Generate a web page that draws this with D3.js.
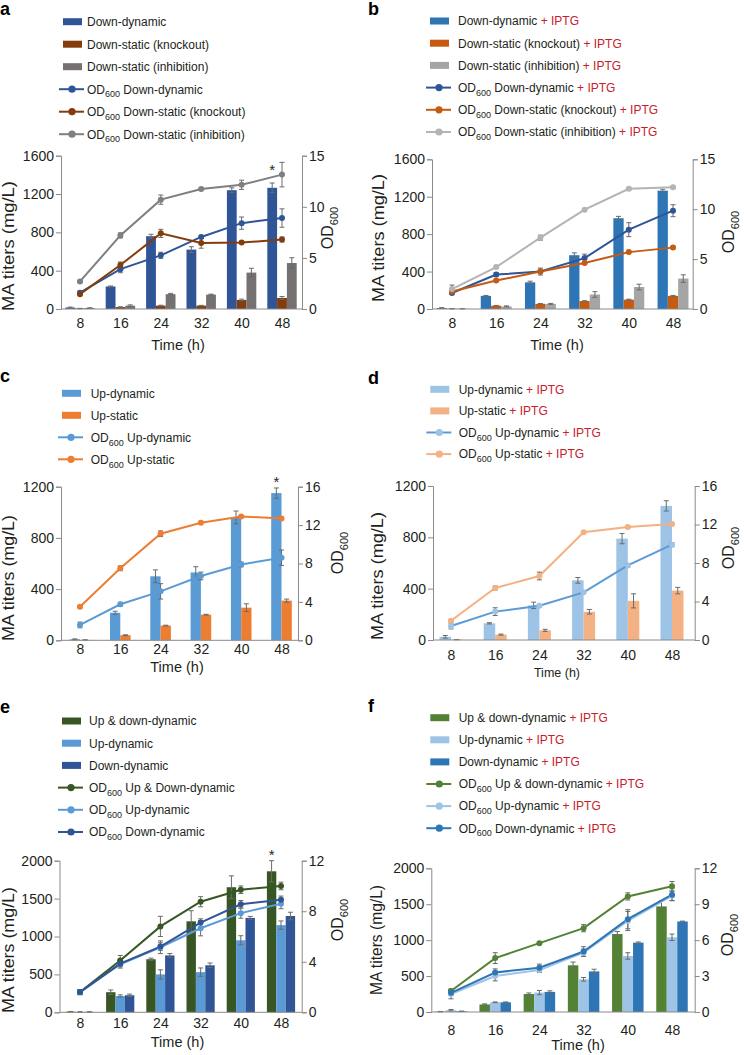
<!DOCTYPE html>
<html><head><meta charset="utf-8">
<script src="https://cdn.jsdelivr.net/npm/d3@7"></script>
<style>body{margin:0;background:#fff}svg{display:block}</style>
</head><body><svg id="c" width="744" height="1055"></svg>
<script>
const timeLabels = ["8","16","24","32","40","48"];

// ---- panel a ----
const aLeftTicks = [0,400,800,1200,1600];
const aRightTicks = [0,5,10,15];
const aDownDyn = [15,235,760,620,1240,1265];
const aDownDynErr = [5,5,20,30,25,50];
const aKnock = [5,20,35,35,95,115];
const aKnockErr = [2,3,4,3,8,15];
const aInhib = [10,35,155,150,380,480];
const aInhibErr = [3,8,8,5,45,55];
const aOdDownDyn = [1.6,3.9,5.25,7.05,8.4,8.9];
const aOdDownDynErr = [0.15,0.35,0.3,0.15,0.6,0.9];
const aOdKnock = [1.45,4.3,7.4,6.45,6.5,6.8];
const aOdKnockErr = [0.1,0.3,0.4,0.5,0.1,0.25];
const aOdInhib = [2.7,7.2,10.7,11.75,12.15,13.15];
const aOdInhibErr = [0.1,0.25,0.45,0.1,0.45,1.2];
const aLegend = ["Down-dynamic","Down-static (knockout)","Down-static (inhibition)","OD600 Down-dynamic","OD600 Down-static (knockout)","OD600 Down-static (inhibition)"];

// ---- panel b ----
const bLeftTicks = [0,400,800,1200,1600];
const bRightTicks = [0,5,10,15];
const bDownDyn = [10,140,285,575,970,1265];
const bDownDynErr = [5,5,12,25,20,15];
const bKnock = [3,35,55,85,100,140];
const bKnockErr = [1,3,3,3,5,5];
const bInhib = [3,28,55,155,235,325];
const bInhibErr = [1,5,5,30,30,40];
const bOdDownDyn = [1.6,3.45,3.75,5.1,7.95,9.85];
const bOdDownDynErr = [0.1,0.2,0.35,0.4,0.7,0.6];
const bOdKnock = [1.75,2.85,3.75,4.6,5.7,6.15];
const bOdKnockErr = [0.1,0.1,0.1,0.1,0.1,0.1];
const bOdInhib = [2.0,4.2,7.15,9.95,12.05,12.2];
const bOdInhibErr = [0.4,0.1,0.25,0.1,0.1,0.1];
const bLegend = ["Down-dynamic + IPTG","Down-static (knockout) + IPTG","Down-static (inhibition) + IPTG","OD600 Down-dynamic + IPTG","OD600 Down-static (knockout) + IPTG","OD600 Down-static (inhibition) + IPTG"];

// ---- panel c ----
const cLeftTicks = [0,400,800,1200];
const cRightTicks = [0,4,8,12,16];
const cUpDyn = [8,215,500,530,960,1150];
const cUpDynErr = [3,12,50,45,50,40];
const cUpStatic = [3,40,115,200,255,310];
const cUpStaticErr = [1,3,3,3,30,12];
const cOdUpDyn = [1.6,3.75,5.1,6.7,7.9,8.6];
const cOdUpDynErr = [0.3,0.2,0.8,0.4,0.25,0.8];
const cOdUpStatic = [3.5,7.5,11.1,12.25,12.9,12.7];
const cOdUpStaticErr = [0.1,0.25,0.3,0.1,0.1,0.1];
const cLegend = ["Up-dynamic","Up-static","OD600 Up-dynamic","OD600 Up-static"];

// ---- panel d ----
const dLeftTicks = [0,400,800,1200];
const dRightTicks = [0,4,8,12,16];
const dUpDyn = [25,130,270,465,790,1045];
const dUpDynErr = [10,5,25,22,40,40];
const dUpStatic = [3,42,75,220,305,385];
const dUpStaticErr = [1,4,8,18,55,25];
const dOdUpDyn = [1.45,2.95,3.55,4.95,7.75,9.9];
const dOdUpDynErr = [0.3,0.4,0.15,0.1,0.2,0.2];
const dOdUpStatic = [2.0,5.4,6.65,11.2,11.75,12.05];
const dOdUpStaticErr = [0.1,0.2,0.4,0.1,0.1,0.1];
const dLegend = ["Up-dynamic + IPTG","Up-static + IPTG","OD600 Up-dynamic + IPTG","OD600 Up-static + IPTG"];

// ---- panel e ----
const eLeftTicks = [0,500,1000,1500,2000];
const eRightTicks = [0,4,8,12];
const eUpDown = [8,265,700,1200,1650,1860];
const eUpDownErr = [3,30,15,140,150,140];
const eUpDyn = [5,215,500,530,950,1150];
const eUpDynErr = [3,15,60,55,60,55];
const eDownDyn = [5,225,750,620,1245,1270];
const eDownDynErr = [3,15,25,30,20,50];
const eOdUpDown = [1.6,4.1,6.8,8.75,9.7,10.0];
const eOdUpDownErr = [0.2,0.4,0.8,0.4,0.3,0.3];
const eOdUpDyn = [1.6,3.8,5.15,6.65,7.85,8.6];
const eOdUpDynErr = [0.2,0.3,0.5,0.6,0.4,0.4];
const eOdDownDyn = [1.6,3.85,5.2,7.1,8.55,8.9];
const eOdDownDynErr = [0.2,0.25,0.3,0.3,0.3,0.3];
const eLegend = ["Up & down-dynamic","Up-dynamic","Down-dynamic","OD600 Up & Down-dynamic","OD600 Up-dynamic","OD600 Down-dynamic"];

// ---- panel f ----
const fLeftTicks = [0,500,1000,1500,2000];
const fRightTicks = [0,3,6,9,12];
const fUpDown = [5,105,250,650,1085,1470];
const fUpDownErr = [3,8,15,45,35,80];
const fUpDyn = [25,135,270,455,780,1040];
const fUpDynErr = [10,5,30,25,45,45];
const fDownDyn = [10,135,280,565,965,1260];
const fDownDynErr = [3,5,15,30,10,5];
const fOdUpDown = [1.75,4.5,5.75,7.0,9.65,10.5];
const fOdUpDownErr = [0.15,0.45,0.1,0.3,0.3,0.4];
const fOdUpDyn = [1.5,3.0,3.5,4.95,7.6,9.7];
const fOdUpDynErr = [0.4,0.4,0.2,0.3,0.8,0.4];
const fOdDownDyn = [1.6,3.3,3.7,5.05,7.75,9.8];
const fOdDownDynErr = [0.2,0.3,0.3,0.4,0.8,0.5];
const fLegend = ["Up & down-dynamic + IPTG","Up-dynamic + IPTG","Down-dynamic + IPTG","OD600 Up & down-dynamic + IPTG","OD600 Up-dynamic + IPTG","OD600 Down-dynamic + IPTG"];

const FONT = "'Liberation Sans', Arial, Helvetica, sans-serif";
const TXT = "#231f20", RED = "#c8202a", AX = "#8a8a8a", ERR = "#6a6a6a";
const svg = d3.select("#c").style("font-family", FONT);

function legendText(sel, label, size) {
  let s = label, iptg = false;
  if (s.endsWith(" + IPTG")) { iptg = true; s = s.slice(0, -7); }
  if (s.startsWith("OD600")) {
    sel.append("tspan").text("OD");
    sel.append("tspan").text("600").attr("font-size", size*0.75).attr("dy", size*0.33);
    sel.append("tspan").text(s.slice(5)).attr("dy", -size*0.33);
  } else {
    sel.append("tspan").text(s);
  }
  if (iptg) sel.append("tspan").text(" + IPTG").attr("fill", RED);
}

function errBars(g, xs, vals, errs, scale, cap, color) {
  const data = vals.map((v,j)=>({x:xs(j), v, e:errs[j]}));
  const eg = g.append("g").attr("stroke", color).attr("stroke-width", 1).attr("fill","none");
  eg.selectAll(null).data(data).join("path")
    .attr("d", d => {
      const y1 = scale(d.v + d.e), y0 = scale(Math.max(0, d.v - d.e));
      return `M${d.x},${y0}V${y1}M${d.x-cap},${y1}H${d.x+cap}M${d.x-cap},${y0}H${d.x+cap}`;
    });
}

function panel(cfg) {
  const g = svg.append("g");
  const yL = d3.scaleLinear().domain([0, cfg.yMax]).range([cfg.bottom, cfg.top]);
  const yR = d3.scaleLinear().domain([0, cfg.y2Max]).range([cfg.bottom, cfg.top]);
  const x = d3.scalePoint().domain(timeLabels).range([cfg.c0, cfg.c5]);
  const n = cfg.bars.length;

  // bars
  cfg.bars.forEach((s, i) => {
    const off = -n*cfg.barW/2 + i*cfg.barW;
    g.append("g").selectAll("rect").data(s.values).join("rect")
      .attr("x", (d,j) => x(timeLabels[j]) + off)
      .attr("y", d => yL(d))
      .attr("width", cfg.barW)
      .attr("height", d => cfg.bottom - yL(d))
      .attr("fill", s.color);
    errBars(g, j => x(timeLabels[j]) + off + cfg.barW/2, s.values, s.err, yL, 2.5, ERR);
  });

  // axes
  const la = g.append("g").attr("transform", `translate(${cfg.left},0)`)
    .call(d3.axisLeft(yL).tickValues(cfg.yTicks).tickSize(5).tickPadding(2).tickFormat(d3.format("d")));
  const ra = g.append("g").attr("transform", `translate(${cfg.right},0)`)
    .call(d3.axisRight(yR).tickValues(cfg.y2Ticks).tickSize(5).tickPadding(2).tickFormat(d3.format("d")));
  [la, ra].forEach(a => {
    a.select(".domain").attr("stroke", AX);
    a.selectAll(".tick line").attr("stroke", AX);
    a.selectAll("text").attr("fill", TXT).attr("font-size", 14).attr("font-family", FONT);
  });
  g.append("line").attr("x1", cfg.left).attr("x2", cfg.right)
    .attr("y1", cfg.bottom).attr("y2", cfg.bottom).attr("stroke", AX);
  const ba = g.append("g").attr("transform", `translate(0,${cfg.bottom})`)
    .call(d3.axisBottom(x).tickSize(0));
  ba.select(".domain").remove();
  ba.selectAll("text").attr("y", cfg.tickBase - cfg.bottom).attr("dy", null)
    .attr("fill", TXT).attr("font-size", 14).attr("font-family", FONT);

  // lines
  const line = d3.line().x((d,j) => x(timeLabels[j])).y(d => yR(d));
  cfg.lines.forEach(s => {
    g.append("path").datum(s.values).attr("d", line)
      .attr("fill", "none").attr("stroke", s.color).attr("stroke-width", 2);
  });
  cfg.lines.forEach(s => {
    errBars(g, j => x(timeLabels[j]), s.values, s.err, yR, 2.5, ERR);
  });
  cfg.lines.forEach(s => {
    g.append("g").selectAll("circle").data(s.values).join("circle")
      .attr("cx", (d,j) => x(timeLabels[j])).attr("cy", d => yR(d))
      .attr("r", 3).attr("fill", s.marker || s.color);
  });

  // star
  if (cfg.star) {
    const s = cfg.bars[cfg.star.bar];
    const j = timeLabels.length - 1;
    const off = -n*cfg.barW/2 + cfg.star.bar*cfg.barW + cfg.barW/2;
    g.append("text").attr("x", x(timeLabels[j]) + off)
      .attr("y", yL(s.values[j] + s.err[j]) - cfg.star.gap + 8)
      .attr("text-anchor", "middle").attr("font-size", 15).attr("fill", TXT).text("*");
  }

  // axis titles
  g.append("text").attr("transform", `translate(${cfg.ylx},${cfg.ylcy}) rotate(-90)`)
    .attr("text-anchor", "middle").attr("font-size", 16).attr("fill", TXT)
    .attr("textLength", cfg.ylLen).attr("lengthAdjust", "spacingAndGlyphs")
    .text("MA titers (mg/L)");
  const od = g.append("text").attr("transform", `translate(${cfg.odx},${cfg.odcy}) rotate(-90)`)
    .attr("text-anchor", "middle").attr("font-size", 16).attr("fill", TXT);
  od.append("tspan").text("OD");
  od.append("tspan").text("600").attr("font-size", 11).attr("dy", 4.5);
  g.append("text").attr("x", cfg.timeX).attr("y", cfg.timeY).attr("text-anchor", "middle")
    .attr("font-size", cfg.timeSize || 14.5).attr("fill", TXT).text("Time (h)");

  // panel letter
  g.append("text").attr("x", cfg.lx).attr("y", cfg.ly).attr("font-size", 18)
    .attr("font-weight", "bold").attr("fill", "#000").text(cfg.letter);

  // legend
  const items = cfg.bars.map(b => ({type:"bar", color:b.color}))
    .concat(cfg.lines.map(l => ({type:"line", color:l.color, marker:l.marker || l.color})));
  items.forEach((it, i) => {
    const yy = cfg.legY0 + i*cfg.legDy;
    if (it.type === "bar") {
      g.append("rect").attr("x", cfg.swX).attr("y", yy - 3.5).attr("width", 19).attr("height", 7).attr("fill", it.color);
    } else {
      g.append("line").attr("x1", cfg.swX - 4).attr("x2", cfg.swX + 21).attr("y1", yy).attr("y2", yy)
        .attr("stroke", it.color).attr("stroke-width", 2);
      g.append("circle").attr("cx", cfg.swX + 9).attr("cy", yy).attr("r", 3.6).attr("fill", it.marker);
    }
    const t = g.append("text").attr("x", cfg.txtX).attr("y", yy + 4.3).attr("font-size", 12).attr("fill", TXT);
    legendText(t, cfg.legend[i], 12);
  });
}

panel({letter:"a", lx:0, ly:15, left:61, right:302, top:155.7, bottom:309, c0:80, c5:282, barW:9.8,
  yMax:1600, yTicks:aLeftTicks, y2Max:15, y2Ticks:aRightTicks, tickBase:328,
  timeX:178, timeY:350, ylx:14, ylcy:246, ylLen:130, odx:333, odcy:228,
  swX:63, txtX:87, legY0:21.7, legDy:22.5, legend:aLegend, star:{bar:0, gap:16},
  bars:[{values:aDownDyn, err:aDownDynErr, color:"#2f5597"},
        {values:aKnock, err:aKnockErr, color:"#843c0c"},
        {values:aInhib, err:aInhibErr, color:"#767171"}],
  lines:[{values:aOdDownDyn, err:aOdDownDynErr, color:"#2f5597"},
         {values:aOdKnock, err:aOdKnockErr, color:"#843c0c"},
         {values:aOdInhib, err:aOdInhibErr, color:"#7f7f7f"}]});

panel({letter:"b", lx:368, ly:15, left:432, right:692.7, top:159.3, bottom:309, c0:452, c5:673, barW:10.3,
  yMax:1600, yTicks:bLeftTicks, y2Max:15, y2Ticks:bRightTicks, tickBase:328,
  timeX:557, timeY:350, ylx:384, ylcy:238, ylLen:128, odx:734, odcy:232,
  swX:430, txtX:458, legY0:21, legDy:22.2, legend:bLegend,
  bars:[{values:bDownDyn, err:bDownDynErr, color:"#2e75b6"},
        {values:bKnock, err:bKnockErr, color:"#c55a11"},
        {values:bInhib, err:bInhibErr, color:"#a5a5a5"}],
  lines:[{values:bOdDownDyn, err:bOdDownDynErr, color:"#2f5597"},
         {values:bOdKnock, err:bOdKnockErr, color:"#c55a11"},
         {values:bOdInhib, err:bOdInhibErr, color:"#b4b4b4"}]});

panel({letter:"c", lx:0, ly:382, left:61, right:298, top:486.7, bottom:640.3, c0:80, c5:281.5, barW:10.3,
  yMax:1200, yTicks:cLeftTicks, y2Max:16, y2Ticks:cRightTicks, tickBase:654,
  timeX:177, timeY:672, ylx:14, ylcy:578, ylLen:126, odx:343, odcy:553,
  swX:62, txtX:90.7, legY0:393.3, legDy:22, legend:cLegend, star:{bar:0, gap:9},
  bars:[{values:cUpDyn, err:cUpDynErr, color:"#5b9bd5"},
        {values:cUpStatic, err:cUpStaticErr, color:"#ed7d31"}],
  lines:[{values:cOdUpDyn, err:cOdUpDynErr, color:"#5b9bd5"},
         {values:cOdUpStatic, err:cOdUpStaticErr, color:"#ed7d31"}]});

panel({letter:"d", lx:368, ly:384, left:433, right:694.7, top:486, bottom:640, c0:451, c5:672, barW:11.5,
  yMax:1200, yTicks:dLeftTicks, y2Max:16, y2Ticks:dRightTicks, tickBase:660,
  timeX:557, timeY:677, timeSize:12.5, ylx:383, ylcy:576, ylLen:128, odx:734, odcy:548,
  swX:430.3, txtX:458.7, legY0:389.3, legDy:21.6, legend:dLegend,
  bars:[{values:dUpDyn, err:dUpDynErr, color:"#9dc3e6"},
        {values:dUpStatic, err:dUpStaticErr, color:"#f4b183"}],
  lines:[{values:dOdUpDyn, err:dOdUpDynErr, color:"#5b9bd5", marker:"#9dc3e6"},
         {values:dOdUpStatic, err:dOdUpStaticErr, color:"#f4b183"}]});

panel({letter:"e", lx:0, ly:712.7, left:59.5, right:301.7, top:860.7, bottom:1012.3, c0:80, c5:281, barW:9.4,
  yMax:2000, yTicks:eLeftTicks, y2Max:12, y2Ticks:eRightTicks, tickBase:1028,
  timeX:177.5, timeY:1047, ylx:14, ylcy:950, ylLen:126, odx:343, odcy:920,
  swX:62, txtX:89, legY0:721, legDy:22.2, legend:eLegend, star:{bar:0, gap:9},
  bars:[{values:eUpDown, err:eUpDownErr, color:"#375623"},
        {values:eUpDyn, err:eUpDynErr, color:"#5b9bd5"},
        {values:eDownDyn, err:eDownDynErr, color:"#2f5597"}],
  lines:[{values:eOdUpDown, err:eOdUpDownErr, color:"#375623"},
         {values:eOdUpDyn, err:eOdUpDynErr, color:"#5b9bd5"},
         {values:eOdDownDyn, err:eOdDownDynErr, color:"#2f5597"}]});

panel({letter:"f", lx:368, ly:711.7, left:431.3, right:694.7, top:868.3, bottom:1012, c0:451, c5:672, barW:10.5,
  yMax:2000, yTicks:fLeftTicks, y2Max:12, y2Ticks:fRightTicks, tickBase:1035,
  timeX:578, timeY:1050, ylx:382, ylcy:940, ylLen:110, odx:733, odcy:935,
  swX:430.3, txtX:458.7, legY0:717.7, legDy:22.1, legend:fLegend,
  bars:[{values:fUpDown, err:fUpDownErr, color:"#548235"},
        {values:fUpDyn, err:fUpDynErr, color:"#9dc3e6"},
        {values:fDownDyn, err:fDownDynErr, color:"#2e75b6"}],
  lines:[{values:fOdUpDown, err:fOdUpDownErr, color:"#548235"},
         {values:fOdUpDyn, err:fOdUpDynErr, color:"#9dc3e6"},
         {values:fOdDownDyn, err:fOdDownDynErr, color:"#2e75b6"}]});
</script></body></html>
